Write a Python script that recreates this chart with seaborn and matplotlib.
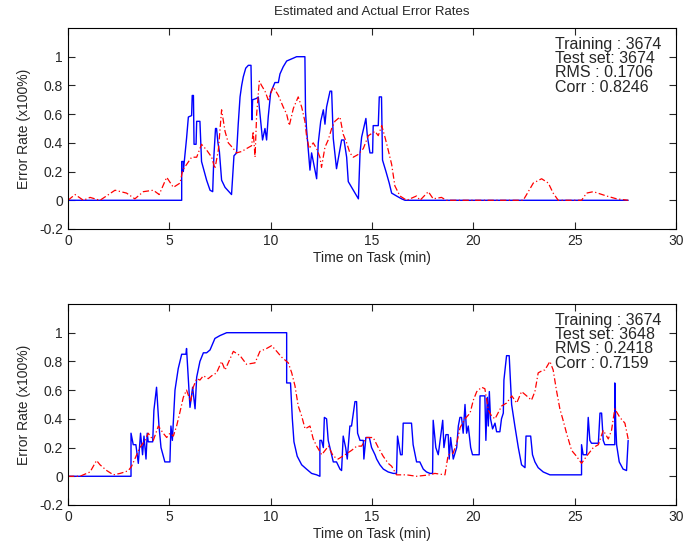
import numpy as np
import pandas as pd
import seaborn as sns
import matplotlib.pyplot as plt

# top panel: actual error (blue) and estimated error (red)
t_act1 = [0, 5.61, 5.61, 5.69, 5.69, 5.85, 5.94, 6.10, 6.13, 6.19, 6.22, 6.32, 6.35, 6.51, 6.59, 6.84,
          7.01, 7.14, 7.20, 7.28, 7.33, 7.40, 7.47, 7.58, 7.75, 8.07, 8.19, 8.32, 8.40, 8.49, 8.57, 8.65,
          8.77, 8.90, 9.03, 9.08, 9.11, 9.31, 9.39, 9.60, 9.72, 9.80, 9.88, 10.0, 10.21, 10.38, 10.46,
          10.62, 10.79, 11.12, 11.28, 11.69, 11.72, 11.77, 11.94, 12.02, 12.27, 12.35, 12.47, 12.60,
          12.68, 12.76, 12.93, 13.01, 13.09, 13.25, 13.50, 13.62, 13.75, 13.83, 14.08, 14.33, 14.41,
          14.49, 14.70, 14.77, 14.90, 15.03, 15.06, 15.31, 15.36, 15.47, 15.52, 15.69, 15.85, 15.97,
          16.21, 16.46, 16.63, 27.64]
v_act1 = [0, 0, 0.27, 0.27, 0.20, 0.43, 0.58, 0.59, 0.73, 0.73, 0.39, 0.39, 0.55, 0.55, 0.27, 0.14,
          0.07, 0.06, 0.31, 0.50, 0.50, 0.40, 0.34, 0.14, 0.09, 0.04, 0.31, 0.33, 0.53, 0.72, 0.80, 0.86,
          0.92, 0.94, 0.94, 0.56, 0.70, 0.71, 0.72, 0.42, 0.50, 0.42, 0.58, 0.75, 0.82, 0.82, 0.88,
          0.93, 0.97, 0.99, 1.0, 1.0, 0.62, 0.50, 0.21, 0.33, 0.15, 0.40, 0.55, 0.63,
          0.53, 0.65, 0.76, 0.76, 0.43, 0.22, 0.42, 0.42, 0.30, 0.13, 0.07, 0.01, 0.33,
          0.44, 0.57, 0.45, 0.33, 0.33, 0.52, 0.52, 0.72, 0.72, 0.28, 0.20, 0.12, 0.05,
          0.03, 0.01, 0, 0]

t_est1 = [0, 0.35, 0.76, 1.09, 1.58, 2.32, 2.89, 3.30, 3.72, 4.21, 4.50, 4.87, 5.20, 5.53, 5.66, 6.10,
          6.35, 6.59, 6.84, 7.09, 7.25, 7.42, 7.58, 7.75, 7.91, 8.16, 8.32, 8.57, 8.81, 9.06, 9.14, 9.23,
          9.31, 9.44, 9.55, 9.72, 9.88, 10.13, 10.38, 10.62, 10.79, 10.92, 11.12, 11.36, 11.53, 11.69,
          11.77, 11.90, 12.10, 12.27, 12.43, 12.51, 12.68, 12.84, 13.01, 13.17, 13.42, 13.58, 13.75,
          13.91, 14.08, 14.33, 14.57, 14.82, 15.15, 15.31, 15.48, 15.64, 15.80, 15.97, 16.13, 16.38,
          16.71, 17.20, 17.37, 17.78, 18.02, 18.43, 18.67, 22.46, 22.63, 22.96, 23.37, 23.70, 23.94,
          24.19, 25.34, 25.59, 25.92, 26.57, 27.07, 27.64]
v_est1 = [0, 0.04, 0.0, 0.02, 0.0, 0.07, 0.05, 0.01, 0.06, 0.07, 0.04, 0.16, 0.09, 0.12, 0.21, 0.30,
          0.30, 0.39, 0.35, 0.30, 0.22, 0.35, 0.63, 0.48, 0.40, 0.36, 0.33, 0.34, 0.36, 0.38, 0.48, 0.30,
          0.60, 0.83, 0.80, 0.76, 0.70, 0.79, 0.73, 0.65, 0.60, 0.52, 0.64, 0.72, 0.65, 0.55,
          0.45, 0.36, 0.40, 0.36, 0.30, 0.23, 0.37, 0.42, 0.50, 0.55, 0.58, 0.46, 0.40,
          0.33, 0.30, 0.32, 0.36, 0.45, 0.48, 0.45, 0.52, 0.44, 0.35, 0.25, 0.10, 0.03,
          0.0, 0.03, 0.0, 0.06, 0.01, 0.02, 0, 0, 0.04, 0.12, 0.15, 0.12, 0.05,
          0, 0, 0.05, 0.06, 0.03, 0.01, 0]

# bottom panel
t_act2 = [0, 3.11, 3.11, 3.22, 3.35, 3.47, 3.58, 3.68, 3.75, 3.85, 3.91, 3.96, 4.18, 4.24, 4.37, 4.49,
          4.59, 4.78, 5.03, 5.08, 5.15, 5.28, 5.44, 5.61, 5.82, 5.85, 6.02, 6.15, 6.27, 6.35, 6.51, 6.68,
          6.84, 7.01, 7.25, 7.50, 7.83, 10.79, 10.79, 10.98, 11.07, 11.15, 11.31, 11.53, 11.77, 12.02,
          12.27, 12.43, 12.43, 12.51, 12.60, 12.65, 12.76, 12.84, 13.01, 13.09, 13.25, 13.42, 13.50,
          13.58, 13.70, 13.78, 13.91, 13.99, 14.16, 14.24, 14.29, 14.41, 14.57, 14.60, 14.70, 14.87,
          14.98, 15.15, 15.23, 15.39, 15.56, 15.80, 16.05, 16.21, 16.26, 16.41, 16.49, 16.54, 16.95,
          17.03, 17.20, 17.36, 17.53, 17.69, 17.86, 17.99, 18.02, 18.15, 18.27, 18.49, 18.55, 18.65,
          18.76, 18.81, 18.88, 19.01, 19.18, 19.26, 19.34, 19.42, 19.50, 19.59, 19.67, 19.75, 19.87,
          19.96, 20.29, 20.33, 20.57, 20.62, 20.69, 20.74, 20.79, 20.85, 20.95, 21.07, 21.15, 21.31,
          21.39, 21.48, 21.51, 21.64, 21.77, 21.89, 22.05, 22.22, 22.38, 22.55, 22.60, 22.83, 22.92,
          23.04, 23.20, 23.45, 23.78, 25.34, 25.34, 25.42, 25.59, 25.67, 25.75, 25.83, 26.17, 26.25,
          26.33, 26.41, 26.49, 26.98, 26.98, 27.03, 27.07, 27.20, 27.39, 27.56, 27.64]
v_act2 = [0, 0, 0.30, 0.22, 0.22, 0.09, 0.30, 0.15, 0.28, 0.12, 0.30, 0.24, 0.24, 0.46, 0.62, 0.35,
          0.20, 0.10, 0.10, 0.35, 0.25, 0.60, 0.75, 0.85, 0.85, 0.89, 0.48, 0.62, 0.47, 0.69, 0.80, 0.86,
          0.86, 0.88, 0.96, 0.98, 1.0, 1.0, 0.65, 0.65, 0.40, 0.24, 0.14, 0.08, 0.05, 0.02,
          0.01, 0.0, 0.25, 0.25, 0.20, 0.41, 0.40, 0.25, 0.15, 0.10, 0.10, 0.05, 0.04,
          0.28, 0.20, 0.12, 0.35, 0.35, 0.52, 0.52, 0.30, 0.25, 0.25, 0.12, 0.27, 0.27,
          0.20, 0.15, 0.12, 0.08, 0.05, 0.03, 0.02, 0.02, 0.28, 0.15, 0.15, 0.37, 0.37,
          0.22, 0.10, 0.10, 0.05, 0.03, 0.02, 0.02, 0.39, 0.20, 0.15, 0.39, 0.20, 0.29,
          0.29, 0.12, 0.27, 0.12, 0.20, 0.35, 0.41, 0.41, 0.30, 0.50, 0.30, 0.35, 0.20,
          0.15, 0.15, 0.56, 0.56, 0.25, 0.55, 0.35, 0.59, 0.40, 0.33, 0.37, 0.31, 0.31,
          0.40, 0.44, 0.67, 0.84, 0.84, 0.50, 0.35, 0.20, 0.08, 0.06, 0.28, 0.28, 0.15,
          0.10, 0.06, 0.03, 0.01, 0.01, 0.22, 0.15, 0.15, 0.41, 0.25, 0.23, 0.23, 0.44,
          0.44, 0.25, 0.22, 0.22, 0.65, 0.35, 0.22, 0.10, 0.05, 0.04, 0.25]

t_est2 = [0, 0.59, 1.09, 1.41, 1.58, 1.91, 2.24, 2.57, 2.81, 2.98, 3.14, 3.39, 3.55, 3.80, 3.96, 4.21,
          4.46, 4.70, 4.87, 5.03, 5.20, 5.36, 5.53, 5.69, 5.85, 6.05, 6.18, 6.35, 6.51, 6.68, 6.92, 7.09,
          7.33, 7.58, 7.75, 8.16, 8.49, 8.81, 9.23, 9.47, 9.80, 10.05, 10.30, 10.54, 10.87, 11.04, 11.20,
          11.36, 11.53, 11.70, 11.94, 12.10, 12.27, 12.52, 12.85, 13.09, 13.33, 13.67, 13.99, 14.25,
          14.49, 14.73, 15.06, 15.31, 15.55, 15.80, 15.97, 16.21, 16.70, 17.20, 17.86, 18.10, 18.60,
          18.76, 19.00, 19.18, 19.35, 19.59, 19.84, 20.00, 20.17, 20.41, 20.57, 20.74, 20.90, 21.07,
          21.40, 21.64, 21.90, 22.14, 22.38, 22.63, 22.87, 23.04, 23.20, 23.45, 23.53, 23.78, 23.94,
          24.10, 24.27, 24.43, 24.60, 24.85, 25.09, 25.34, 25.59, 25.92, 26.17, 26.41, 26.66, 26.82,
          26.98, 27.23, 27.48, 27.64]
v_est2 = [0, 0, 0.03, 0.11, 0.08, 0.04, 0.01, 0.02, 0.03, 0.04, 0.07, 0.15, 0.20, 0.25, 0.30, 0.25,
          0.35, 0.30, 0.27, 0.30, 0.28, 0.35, 0.45, 0.55, 0.60, 0.52, 0.62, 0.68, 0.67, 0.70, 0.68, 0.70,
          0.72, 0.80, 0.74, 0.87, 0.84, 0.78, 0.79, 0.87, 0.89, 0.91, 0.87, 0.83, 0.79, 0.72, 0.63,
          0.49, 0.42, 0.33, 0.35, 0.26, 0.21, 0.15, 0.21, 0.14, 0.12, 0.15, 0.18, 0.21,
          0.21, 0.27, 0.27, 0.20, 0.14, 0.09, 0.07, 0.01, 0.01, 0.0, 0.01, 0.02, 0.01,
          0.15, 0.16, 0.23, 0.34, 0.40, 0.44, 0.53, 0.59, 0.62, 0.61, 0.46, 0.42, 0.40,
          0.49, 0.51, 0.56, 0.51, 0.59, 0.56, 0.53, 0.59, 0.72, 0.74, 0.74, 0.80, 0.74,
          0.60, 0.47, 0.39, 0.30, 0.18, 0.14, 0.09, 0.14, 0.20, 0.22, 0.32, 0.26, 0.32,
          0.47, 0.41, 0.37, 0.26]

stats1 = "Training : 3674\nTest set: 3674\nRMS : 0.1706\nCorr : 0.8246"
stats2 = "Training : 3674\nTest set: 3648\nRMS : 0.2418\nCorr : 0.7159"

sns.set_style("ticks")
plt.rcParams['font.family'] = ['Liberation Sans', 'DejaVu Sans']

fig = plt.figure(figsize=(6.86, 5.51), dpi=100)
ax1 = fig.add_axes([0.0991, 0.5844, 0.8863, 0.3648])
ax2 = fig.add_axes([0.0991, 0.0835, 0.8863, 0.3648])

panels = [(ax1, t_act1, v_act1, t_est1, v_est1, stats1),
          (ax2, t_act2, v_act2, t_est2, v_est2, stats2)]

for ax, ta, va, te, ve, stats in panels:
    sns.lineplot(x=ta, y=va, ax=ax, color='#0000ff', lw=1.0, estimator=None, sort=False)
    sns.lineplot(x=te, y=ve, ax=ax, color='#ff0000', lw=0.9, estimator=None, sort=False,
                 linestyle=(0, (5, 2, 1, 2)))
    ax.set_xlim(0, 30)
    ax.set_ylim(-0.2, 1.2)
    ax.set_xticks([0, 5, 10, 15, 20, 25, 30])
    ax.set_yticks([-0.2, 0, 0.2, 0.4, 0.6, 0.8, 1])
    ax.set_yticklabels(['-0.2', '0', '0.2', '0.4', '0.6', '0.8', '1'])
    ax.tick_params(direction='in', length=5, top=True, right=True, labelsize=10, width=0.8)
    for s in ax.spines.values():
        s.set_linewidth(0.8)
        s.set_color('black')
    ax.set_xlabel('Time on Task (min)', fontsize=10, labelpad=2)
    ax.set_ylabel('Error Rate (x100%)', fontsize=10, labelpad=6)
    ax.text(0.801, 0.955, stats, transform=ax.transAxes, ha='left', va='top',
            fontsize=11.5, linespacing=0.93)

ax1.set_title('Estimated and Actual Error Rates', fontsize=9.5, pad=9)

fig.savefig('out.png', dpi=100)
